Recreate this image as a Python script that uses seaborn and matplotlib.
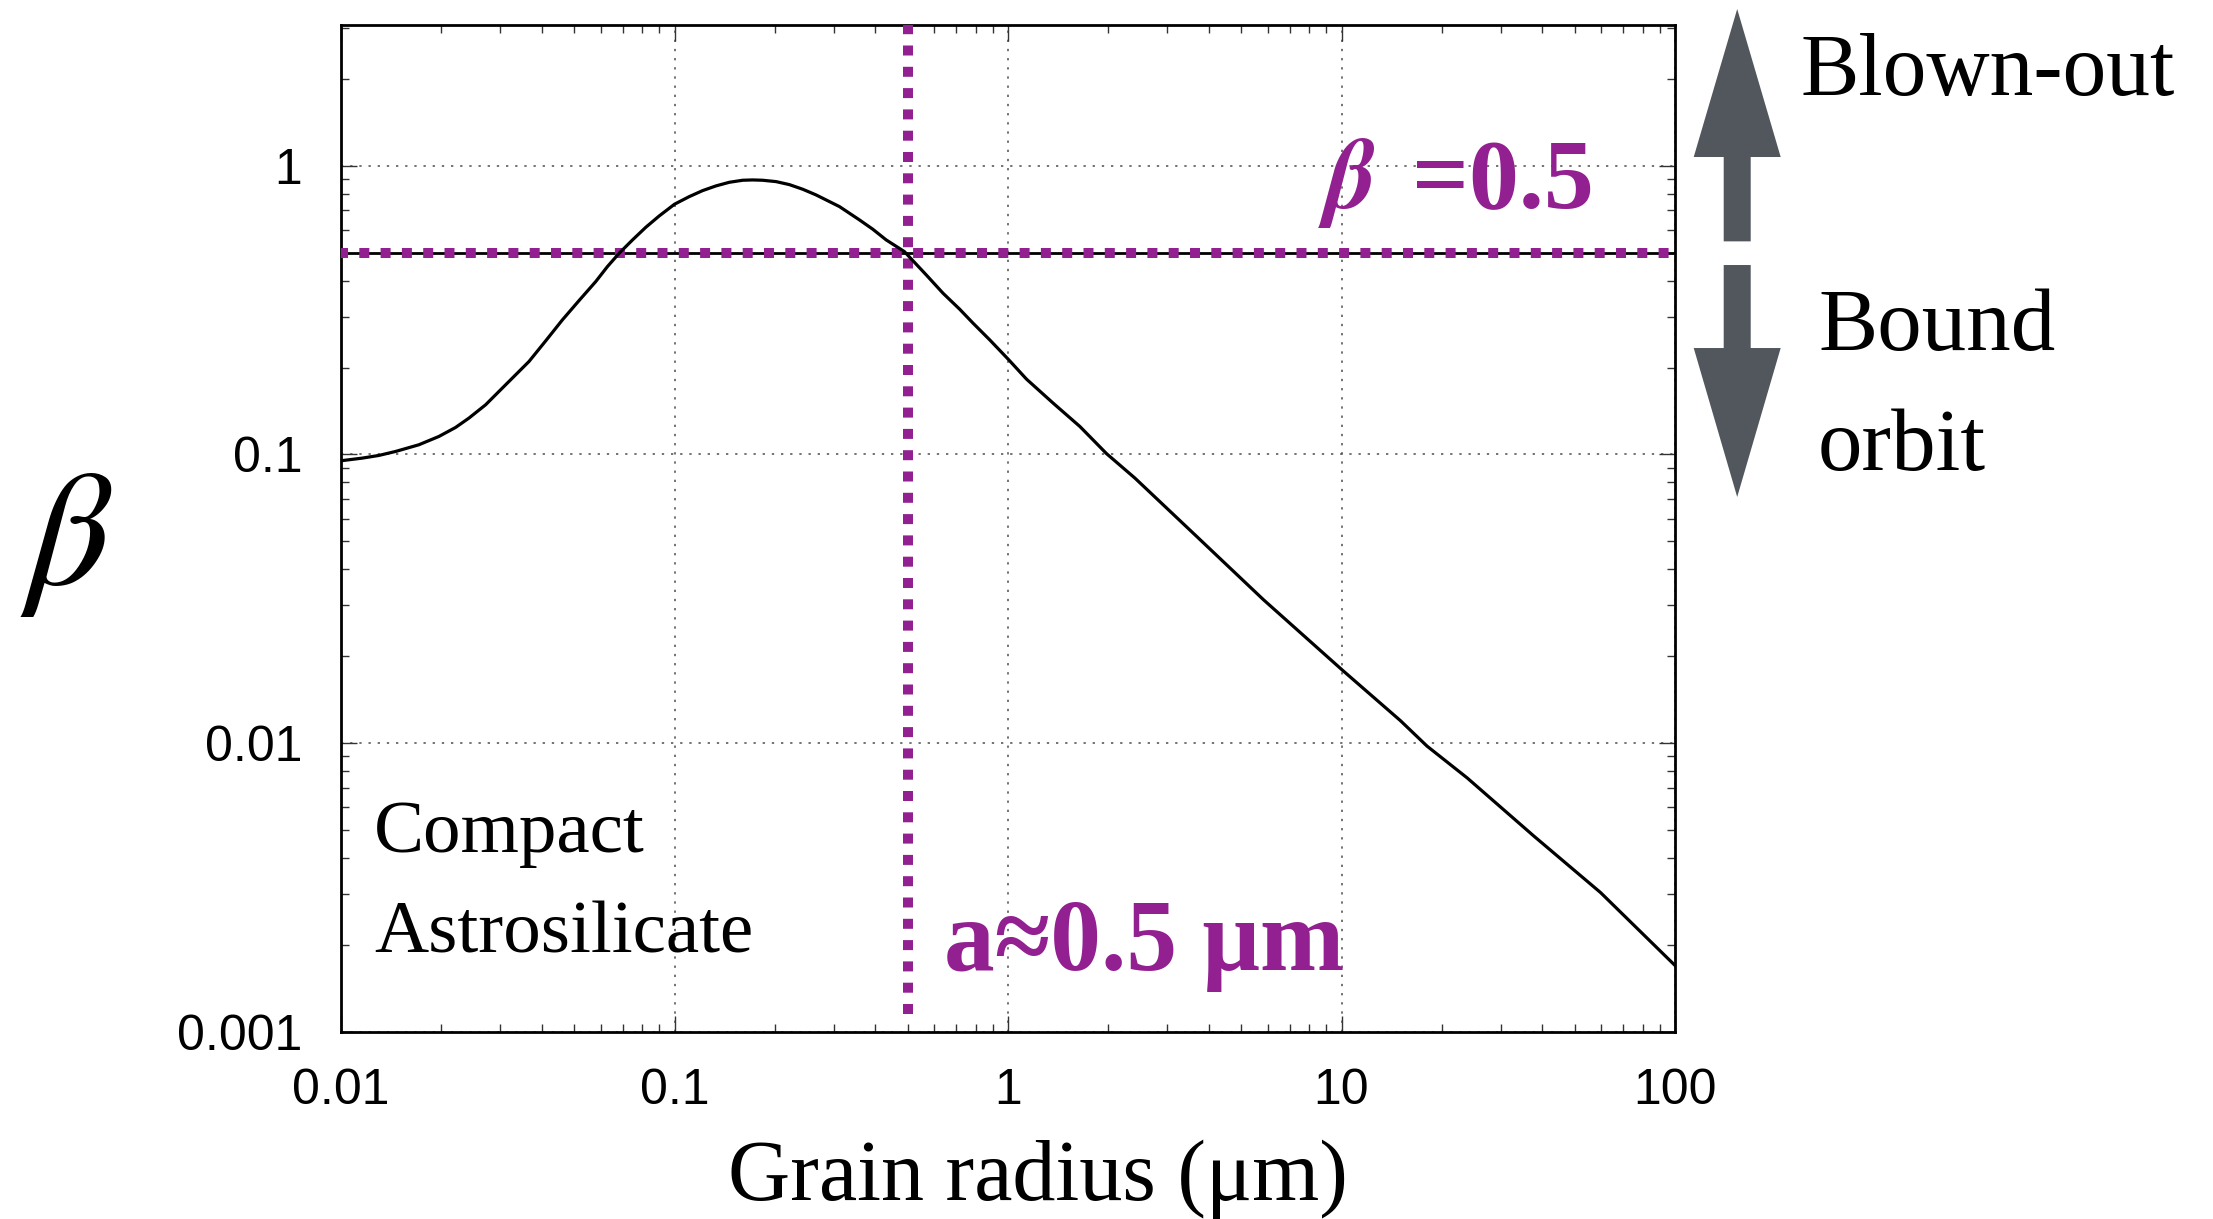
import numpy as np
import pandas as pd
import matplotlib
matplotlib.use("Agg")
import matplotlib.pyplot as plt
from matplotlib.patches import FancyArrow
import seaborn as sns

# grain radius (um) and beta
grain_radius = [0.01, 0.01157, 0.01298, 0.01457, 0.01711, 0.01965, 0.02205,
                0.02418, 0.02714, 0.03045, 0.03339, 0.03662, 0.04109, 0.04611,
                0.05174, 0.05806, 0.06293, 0.06823, 0.07482, 0.08204, 0.08998,
                0.1, 0.1107, 0.1214, 0.1331, 0.146, 0.1601, 0.1716, 0.1838,
                0.2016, 0.221, 0.2424, 0.2658, 0.2915, 0.3124, 0.3586, 0.3932,
                0.4312, 0.489, 0.5687, 0.6383, 0.7161, 0.7853, 0.8811, 1.005,
                1.136, 1.365, 1.642, 1.975, 2.402, 3.679, 5.834, 10.07, 15.01,
                18.05, 23.79, 37.73, 59.8, 100.0]
beta = [0.0951, 0.0971, 0.0992, 0.1024, 0.1080, 0.1154, 0.1240, 0.1336,
        0.1486, 0.1697, 0.1887, 0.2099, 0.2474, 0.2924, 0.3412, 0.3970,
        0.4473, 0.4974, 0.5532, 0.6120, 0.6698, 0.7354, 0.7813, 0.8196,
        0.8509, 0.8759, 0.8902, 0.8924, 0.8902, 0.8806, 0.8598, 0.8285,
        0.7918, 0.7508, 0.7214, 0.6488, 0.6023, 0.5532, 0.504, 0.4184,
        0.3617, 0.3184, 0.2849, 0.2494, 0.2127, 0.1823, 0.1506, 0.1250,
        0.1006, 0.0828, 0.0520, 0.0314, 0.01789, 0.01198, 0.00977, 0.00759,
        0.00477, 0.00304, 0.00170]

x_ticks = [0.01, 0.1, 1, 10, 100]
x_tick_labels = ["0.01", "0.1", "1", "10", "100"]
y_ticks = [0.001, 0.01, 0.1, 1]
y_tick_labels = ["0.001", "0.01", "0.1", "1"]

beta_cut = 0.5
radius_cut = 0.5

PURPLE = "#922090"
ARROW_GRAY = "#52575e"
SERIF = ["Liberation Serif", "DejaVu Serif"]

sns.set_style("ticks")
plt.rcParams["font.family"] = ["Liberation Sans", "DejaVu Sans"]
plt.rcParams["text.color"] = "black"
plt.rcParams["axes.labelcolor"] = "black"
plt.rcParams["xtick.color"] = "black"
plt.rcParams["ytick.color"] = "black"

df = pd.DataFrame({"radius": grain_radius, "beta": beta})

fig = plt.figure(figsize=(22.13, 12.19), dpi=100)
ax = fig.add_axes([0.1541, 0.1534, 0.6028, 0.8261])

ax.set_xscale("log")
ax.set_yscale("log")

# reference lines
ax.axhline(beta_cut, color="black", lw=2.0, zorder=2)
ax.axhline(beta_cut, color=PURPLE, lw=7.2, linestyle=(0.3, (1.0, 1.13)),
           dash_capstyle="butt", zorder=3)
ax.axvline(radius_cut, ymin=0.018, ymax=1.0, color=PURPLE, lw=7.2,
           linestyle=(0, (1.0, 1.13)), dash_capstyle="butt", zorder=4)

sns.lineplot(data=df, x="radius", y="beta", color="black", lw=2.3,
             ax=ax, zorder=5)

ax.set_xlim(0.01, 100)
ax.set_ylim(0.001, 3.07)

ax.set_xticks(x_ticks, x_tick_labels)
ax.set_yticks(y_ticks, y_tick_labels)
ax.grid(True, which="major", color="0.3", lw=1.1, linestyle=(0, (1.5, 4.5)))

ax.tick_params(which="both", direction="in", top=True, right=True, width=1.0,
               color="0.2", labelcolor="black")
ax.tick_params(which="major", length=11.5, labelsize=36)
ax.tick_params(axis="x", which="major", pad=26)
ax.tick_params(axis="y", which="major", pad=28)
ax.tick_params(which="minor", length=5.5)
for s in ax.spines.values():
    s.set_linewidth(2.0)
    s.set_color("black")

ax.set_xlabel("Grain radius (μm)", family=SERIF, fontsize=62, va="baseline")
ax.xaxis.set_label_coords(0.5225, -0.1668)
ax.set_ylabel("β", family=["STIXGeneral"], style="italic", fontsize=118,
              rotation=0, va="center", ha="center")
ax.yaxis.set_label_coords(-0.205, 0.484)

# annotations inside the axes
ax.text(0.7384, 0.8183, "β", transform=ax.transAxes, family=["STIXGeneral"],
        style="italic", weight="bold", fontsize=72, color=PURPLE,
        ha="left", va="baseline")
ax.text(0.9393, 0.8183, "=0.5", transform=ax.transAxes, family=SERIF,
        weight="bold", fontsize=72, color=PURPLE, ha="right", va="baseline")
ax.text(0.452, 0.0616, "a≈0.5 μm", transform=ax.transAxes, family=SERIF,
        weight="bold", fontsize=73, color=PURPLE, ha="left", va="baseline")
ax.text(0.0247, 0.1787, "Compact", transform=ax.transAxes, family=SERIF,
        fontsize=54, ha="left", va="baseline")
ax.text(0.0247, 0.0794, "Astrosilicate", transform=ax.transAxes, family=SERIF,
        fontsize=54, ha="left", va="baseline")

# arrows and labels to the right of the plot
ax_x = 0.785
fig.patches.append(FancyArrow(ax_x, 0.802, 0, 0.1906, width=0.0122,
                              head_width=0.0393, head_length=0.1214,
                              length_includes_head=True, color=ARROW_GRAY,
                              lw=0, transform=fig.transFigure, figure=fig))
fig.patches.append(FancyArrow(ax_x, 0.7826, 0, -0.1903, width=0.0122,
                              head_width=0.0393, head_length=0.1222,
                              length_includes_head=True, color=ARROW_GRAY,
                              lw=0, transform=fig.transFigure, figure=fig))

fig.text(0.8134, 0.922, "Blown-out", family=SERIF, fontsize=63,
         ha="left", va="baseline")
fig.text(0.8215, 0.7129, "Bound", family=SERIF, fontsize=64,
         ha="left", va="baseline")
fig.text(0.8215, 0.6144, "orbit", family=SERIF, fontsize=64,
         ha="left", va="baseline")

fig.savefig("out.png", dpi=100)
plt.close(fig)
